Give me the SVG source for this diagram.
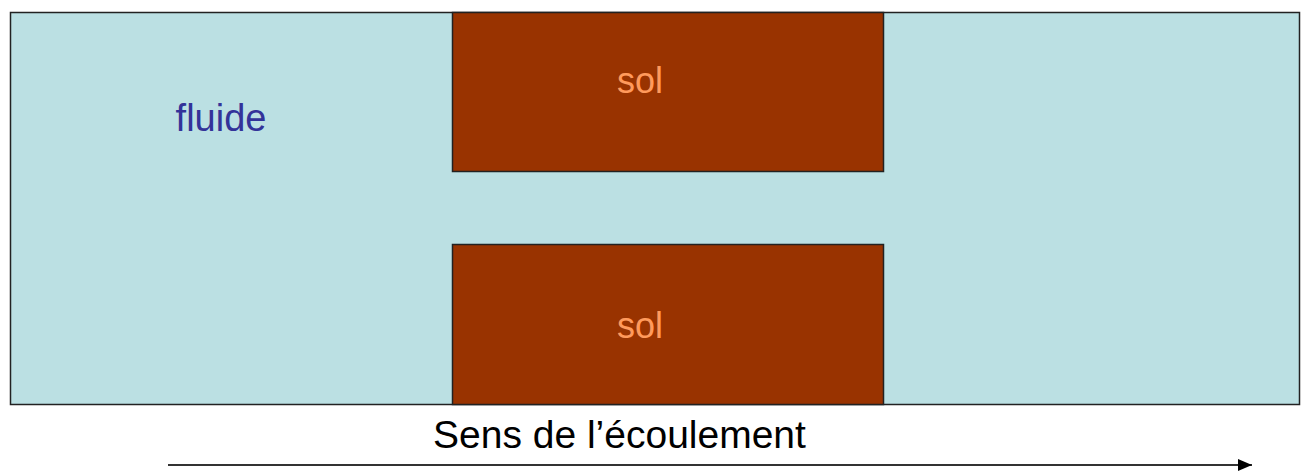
<svg xmlns="http://www.w3.org/2000/svg" width="1309" height="471" viewBox="0 0 1309 471">
<style>
.box{stroke:#222;stroke-width:1.5}
.fluid{fill:#BBE0E3}
.solid{fill:#993300}
.t{font-family:"Liberation Sans",Arial,sans-serif}
.sol{fill:#FF9A5C;font-size:36px}
</style>
<defs>
<marker id="arr" markerWidth="14" markerHeight="12" refX="14" refY="6" orient="auto" markerUnits="userSpaceOnUse">
<path d="M0,0 L14,6 L0,12 Z" fill="#000"/>
</marker>
</defs>
<rect width="1309" height="471" fill="#fff"/>
<g id="fluide">
<rect class="box fluid" x="10.5" y="12.5" width="1289" height="392"/>
<text class="t" x="221" y="131" font-size="38" fill="#333399" text-anchor="middle">fluide</text>
</g>
<g id="sol-haut">
<rect class="box solid" x="452.5" y="12.5" width="431" height="159"/>
<text class="t sol" x="640" y="93" text-anchor="middle">sol</text>
</g>
<g id="sol-bas">
<rect class="box solid" x="452.5" y="244.5" width="431" height="160"/>
<text class="t sol" x="640" y="338" text-anchor="middle">sol</text>
</g>
<g id="connecteurs">
<line x1="168" y1="465" x2="1252" y2="465" stroke="#333" stroke-width="2" marker-end="url(#arr)"/>
</g>
<text class="t" x="433" y="448" font-size="39" fill="#000">Sens de l’écoulement</text>
</svg>
